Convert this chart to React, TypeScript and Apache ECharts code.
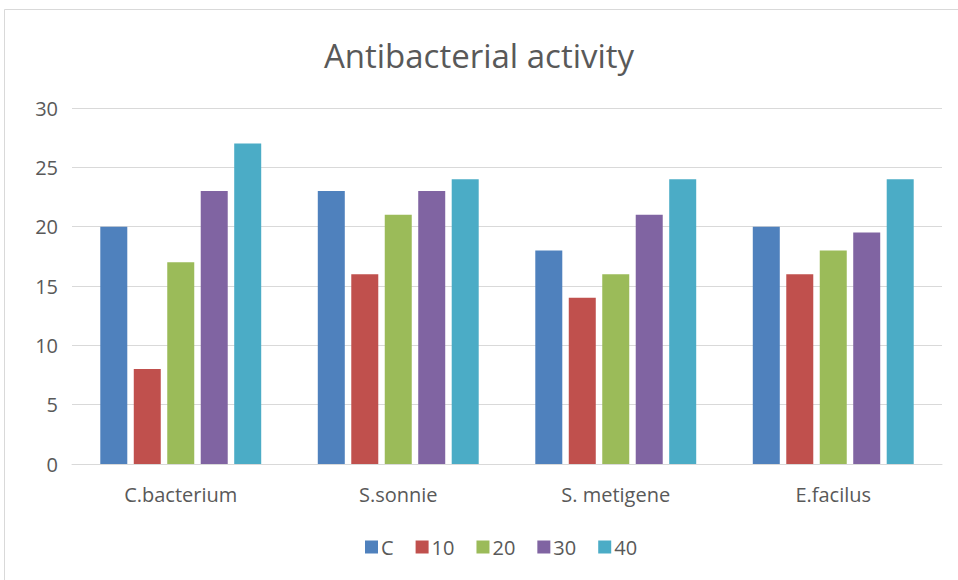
import React, { useEffect, useRef } from "react";
import * as echarts from "echarts";

const categories = ["C.bacterium", "S.sonnie", "S. metigene", "E.facilus"];
const seriesNames = ["C", "10", "20", "30", "40"];
const valuesC = [20, 23, 18, 20];
const values10 = [8, 16, 14, 16];
const values20 = [17, 21, 16, 18];
const values30 = [23, 23, 21, 19.5];
const values40 = [27, 24, 24, 24];
const colors = ["#4F81BD", "#C0504D", "#9BBB59", "#8064A2", "#4BACC6"];

export default function App() {
  const ref = useRef<HTMLDivElement>(null);
  useEffect(() => {
    if (!ref.current) return;
    const chart = echarts.init(ref.current, undefined, { renderer: "svg" });
    const all = [valuesC, values10, values20, values30, values40];
    const font = "Open Sans";
    chart.setOption({
      animation: false,
      backgroundColor: "#ffffff",
      color: colors,
      title: {
        text: "Antibacterial activity",
        left: "center",
        top: 34,
        textStyle: { fontFamily: font, fontSize: 33, fontWeight: "normal", color: "#595959" },
      },
      graphic: [
        {
          type: "rect",
          shape: { x: 4.5, y: 9.5, width: 980, height: 600 },
          style: { fill: "none", stroke: "#D9D9D9", lineWidth: 1 },
          silent: true,
        },
      ],
      legend: {
        data: seriesNames,
        bottom: 18,
        left: 360,
        itemWidth: 13,
        itemHeight: 13,
        itemGap: 22,
        icon: "rect",
        textStyle: { fontFamily: font, fontSize: 20, color: "#595959", padding: [0, 0, 0, -2] },
      },
      grid: { left: 72, right: 16, top: 108, bottom: 116, containLabel: false },
      xAxis: {
        type: "category",
        data: categories,
        axisLine: { show: true, lineStyle: { color: "#D9D9D9" } },
        axisTick: { show: false },
        axisLabel: { fontFamily: font, fontSize: 20, color: "#595959", margin: 20 },
      },
      yAxis: {
        type: "value",
        min: 0,
        max: 30,
        interval: 5,
        axisLine: { show: false },
        axisTick: { show: false },
        splitLine: { lineStyle: { color: "#D9D9D9" } },
        axisLabel: { fontFamily: font, fontSize: 20, color: "#595959", margin: 14 },
      },
      series: seriesNames.map((name, i) => ({
        name,
        type: "bar",
        data: all[i],
        barWidth: 27,
        barGap: "24%",
        itemStyle: { color: colors[i] },
      })),
    });
    return () => chart.dispose();
  }, []);
  return (
    <div
      ref={ref}
      style={{ position: "fixed", left: 0, top: 0, width: 958, height: 580 }}
    />
  );
}
